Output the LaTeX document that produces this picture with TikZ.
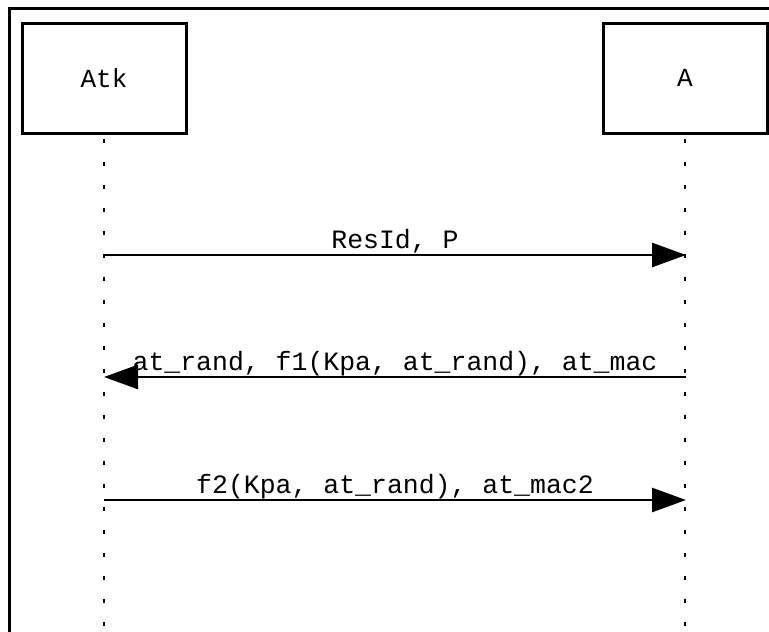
\documentclass[tikz,border=0pt]{standalone}
\usepackage{fontspec}
\setmonofont{Liberation Mono}
\usetikzlibrary{arrows.meta}
\begin{document}
\begin{tikzpicture}[x=1pt,y=-1pt,
  actor/.style={draw, line width=3pt, minimum width=164pt, minimum height=110pt, inner sep=0pt, font=\ttfamily\fontsize{26}{30}\selectfont},
  lifeline/.style={line width=2.6pt, dash pattern=on 4pt off 19pt},
  msg/.style={line width=2.8pt, -{Triangle[length=34pt,width=24pt]}},
  lbl/.style={font=\ttfamily\fontsize{26.5}{30}\selectfont, anchor=base, inner sep=0pt, yshift=7pt}]
\useasboundingbox (0,0) rectangle (769,632);
\draw[line width=3pt] (9,640) -- (9,8) -- (780,8);
\node[actor] (atk) at (104,78) {Atk};
\node[actor] (a) at (685,78) {A};
\coordinate (atkend) at (104,632);
\coordinate (aend) at (685,632);
\draw[lifeline] ([yshift=-4pt]atk.south) -- (atkend);
\draw[lifeline] ([yshift=-4pt]a.south) -- (aend);
\coordinate (l1) at (104,255); \coordinate (r1) at (686,255);
\coordinate (l2) at (104,377); \coordinate (r2) at (686,377);
\coordinate (l3) at (104,500); \coordinate (r3) at (686,500);
\draw[msg] (l1) -- node[lbl] (m1) {ResId, P} (r1);
\draw[msg] (r2) -- node[lbl] (m2) {at\_rand, f1(Kpa, at\_rand), at\_mac} (l2);
\draw[msg] (l3) -- node[lbl] (m3) {f2(Kpa, at\_rand), at\_mac2} (r3);
\end{tikzpicture}
\end{document}
